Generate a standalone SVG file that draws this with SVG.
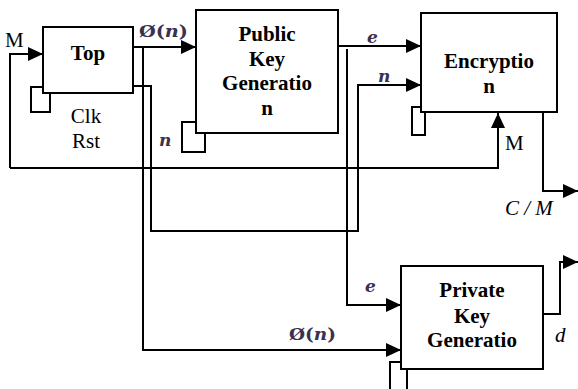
<svg xmlns="http://www.w3.org/2000/svg" width="578" height="389" viewBox="0 0 578 389">
<defs>
<marker id="ah" markerUnits="userSpaceOnUse" markerWidth="16" markerHeight="14" refX="15" refY="7" orient="auto">
<path d="M0,0 L15,7 L0,14 z" fill="#000"/>
</marker>
<style>
.box{fill:#fff;stroke:#000;stroke-width:2}
.clk{fill:none;stroke:#000;stroke-width:2}
.arr{fill:none;stroke:#000;stroke-width:2;marker-end:url(#ah)}
.bt{font-family:'Liberation Serif','Times New Roman',serif;font-weight:700;font-size:21px;text-anchor:middle;fill:#000}
.t{font-family:'Liberation Serif','Times New Roman',serif;font-size:21px;fill:#000}
.ti{font-family:'Liberation Serif','Times New Roman',serif;font-style:italic;font-size:21px;fill:#000}
.m{font-family:'DejaVu Serif',serif;font-size:17px;font-weight:700;fill:#3a3050}
.mi{font-family:'DejaVu Serif',serif;font-size:17px;font-weight:700;font-style:italic;fill:#3a3050}
</style>
</defs>
<rect width="578" height="389" fill="#fff"/>
<g id="connectors">
<path class="arr" d="M10,168 V54 H43"/>
<path class="arr" d="M10,168 H498 V113"/>
<path class="arr" d="M133,47 H196"/>
<path class="arr" d="M143,47 V350 H401"/>
<path class="arr" d="M133,86 H151 V231 H358 V85 H421"/>
<path class="arr" d="M338,46 H421"/>
<path class="arr" d="M347,49 V305 H401"/>
<path class="arr" d="M543,108 V191 H578"/>
<path class="arr" d="M543,314 H560 V262 H578"/>
</g>
<g id="top">
<rect class="clk" x="31" y="87" width="19" height="25"/>
<rect class="box" x="43" y="27" width="90" height="66"/>
<text class="bt" x="88" y="60">Top</text>
<text class="t" x="86" y="123" text-anchor="middle">Clk</text>
<text class="t" x="86" y="148" text-anchor="middle">Rst</text>
</g>
<g id="public-key">
<rect class="clk" x="182" y="122" width="23" height="30"/>
<rect class="box" x="196" y="10" width="142" height="123"/>
<text class="bt" x="267" y="41">Public</text>
<text class="bt" x="267" y="66">Key</text>
<text class="bt" x="267" y="90">Generatio</text>
<text class="bt" x="267" y="115">n</text>
</g>
<g id="encryption">
<rect class="clk" x="412" y="107" width="13" height="28"/>
<rect class="box" x="421" y="13" width="136" height="99"/>
<text class="bt" x="489" y="68">Encryptio</text>
<text class="bt" x="489" y="93">n</text>
</g>
<g id="private-key">
<rect class="clk" x="390" y="362" width="17" height="40"/>
<rect class="box" x="401" y="266" width="142" height="103"/>
<text class="bt" x="472" y="297">Private</text>
<text class="bt" x="472" y="323">Key</text>
<text class="bt" x="472" y="347">Generatio</text>
</g>
<g id="labels">
<text class="t" x="5" y="47">M</text>
<text class="t" x="505" y="150">M</text>
<text class="ti" x="505" y="215">C / M</text>
<text class="ti" x="555" y="342">d</text>
<text class="m" x="139" y="37" textLength="49" lengthAdjust="spacingAndGlyphs">Ø(<tspan font-style="italic">n</tspan>)</text>
<text class="m" x="289" y="340" textLength="47" lengthAdjust="spacingAndGlyphs">Ø(<tspan font-style="italic">n</tspan>)</text>
<text class="mi" x="159" y="146">n</text>
<text class="mi" x="378" y="82">n</text>
<text class="mi" x="367" y="43">e</text>
<text class="mi" x="365" y="292">e</text>
</g>
</svg>
